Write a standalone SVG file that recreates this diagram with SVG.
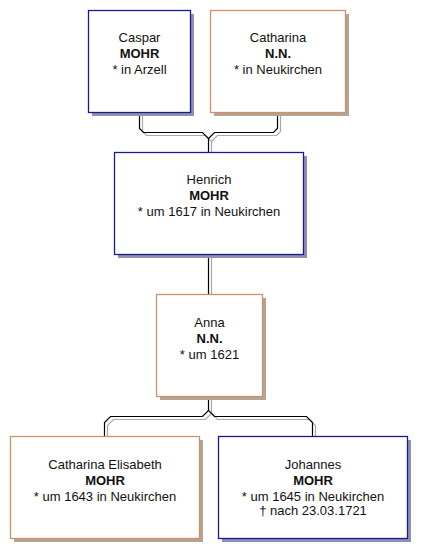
<svg xmlns="http://www.w3.org/2000/svg" width="426" height="558" viewBox="0 0 426 558">
<style>
.bg{fill:#ffffff}
.m{fill:#ffffff;stroke:#1a1a8c;stroke-width:1.3}
.f{fill:#ffffff;stroke:#d0906c;stroke-width:1.3}
.sm{fill:#9090b4}
.sf{fill:#b4a494}
.ln{fill:none;stroke:#000000;stroke-width:1.2}
.lg{fill:none;stroke:#a8a8a8;stroke-width:1.2}
text{font-family:"Liberation Sans",Arial,sans-serif;font-size:13px;fill:#111111;text-anchor:middle}
.b{font-weight:bold}
</style>
<rect class="bg" x="0" y="0" width="426" height="558"/>
<g id="connectors">
  <g class="lg" transform="translate(3,3)">
    <path d="M139.5,112 V128.5 L143.5,132.5 H202.5 L208.5,138.5 V152"/>
    <path d="M277.5,112 V128.5 L273.5,132.5 H214.5 L208.5,138.5"/>
    <path d="M208.5,254 V294"/>
    <path d="M208.5,396 V410.5 L202.5,416.5 H110.5 L104.5,422.5 V436"/>
    <path d="M208.5,410.5 L214.5,416.5 H306.5 L312.5,422.5 V436"/>
  </g>
  <g class="ln">
    <path d="M139.5,112 V128.5 L143.5,132.5 H202.5 L208.5,138.5 V152"/>
    <path d="M277.5,112 V128.5 L273.5,132.5 H214.5 L208.5,138.5"/>
    <path d="M208.5,254 V294"/>
    <path d="M208.5,396 V410.5 L202.5,416.5 H110.5 L104.5,422.5 V436"/>
    <path d="M208.5,410.5 L214.5,416.5 H306.5 L312.5,422.5 V436"/>
  </g>
</g>
<g id="caspar">
  <rect class="sm" x="92" y="14" width="102" height="102"/>
  <rect class="m" x="88.5" y="10.5" width="102" height="102"/>
  <text x="139.5" y="42">Caspar</text>
  <text x="139.5" y="58" class="b">MOHR</text>
  <text x="139.5" y="74">* in Arzell</text>
</g>
<g id="catharina">
  <rect class="sf" x="214" y="14" width="135" height="102"/>
  <rect class="f" x="210.5" y="10.5" width="135" height="102"/>
  <text x="278" y="42">Catharina</text>
  <text x="278" y="58" class="b">N.N.</text>
  <text x="278" y="74">* in Neukirchen</text>
</g>
<g id="henrich">
  <rect class="sm" x="118" y="156" width="189" height="102"/>
  <rect class="m" x="114.5" y="152.5" width="189" height="102"/>
  <text x="209" y="184">Henrich</text>
  <text x="209" y="200" class="b">MOHR</text>
  <text x="209" y="216">* um 1617 in Neukirchen</text>
</g>
<g id="anna">
  <rect class="sf" x="160" y="298" width="106" height="102"/>
  <rect class="f" x="156.5" y="294.5" width="106" height="102"/>
  <text x="209.5" y="327">Anna</text>
  <text x="209.5" y="343" class="b">N.N.</text>
  <text x="209.5" y="359">* um 1621</text>
</g>
<g id="catharina-elisabeth">
  <rect class="sf" x="14" y="440" width="189" height="102"/>
  <rect class="f" x="10.5" y="436.5" width="189" height="102"/>
  <text x="105" y="469">Catharina Elisabeth</text>
  <text x="105" y="485" class="b">MOHR</text>
  <text x="105" y="501">* um 1643 in Neukirchen</text>
</g>
<g id="johannes">
  <rect class="sm" x="222" y="440" width="189" height="102"/>
  <rect class="m" x="218.5" y="436.5" width="189" height="102"/>
  <text x="313" y="469">Johannes</text>
  <text x="313" y="485" class="b">MOHR</text>
  <text x="313" y="501">* um 1645 in Neukirchen</text>
  <text x="313" y="515">† nach 23.03.1721</text>
</g>
</svg>
